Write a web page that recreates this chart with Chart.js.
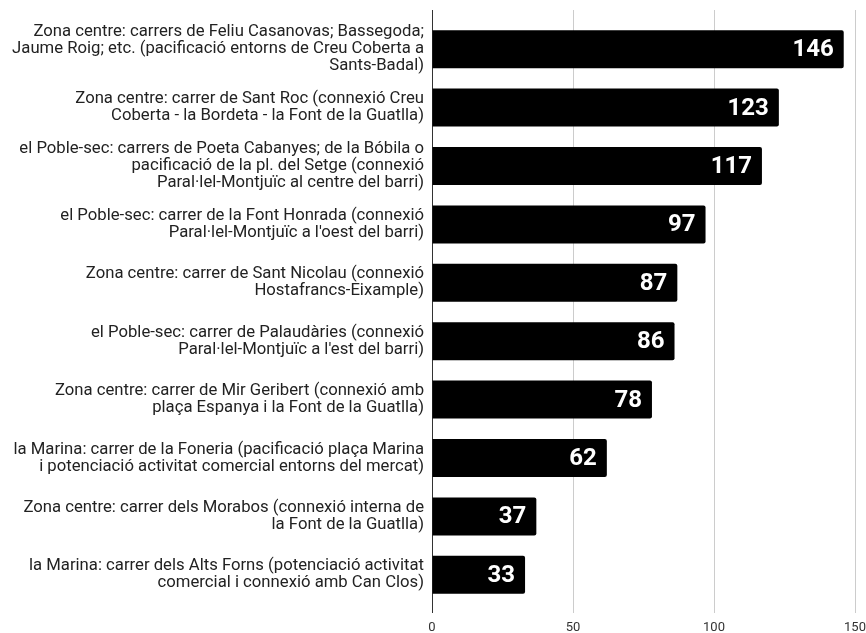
<!DOCTYPE html>
<html>
<head>
<meta charset="utf-8">
<script src="https://cdn.jsdelivr.net/npm/chart.js@4"></script>
<style>
    html, body { margin: 0; padding: 0; background: #fff; }
    #wrap { width: 866px; height: 633px; }
</style>
</head>
<body>
<div id="wrap"><canvas id="chart"></canvas></div>
<script>
// Dades del gràfic
const carrers = [
    ['Zona centre: carrers de Feliu Casanovas; Bassegoda;', 'Jaume Roig; etc. (pacificació entorns de Creu Coberta a', 'Sants-Badal)'],
    ['Zona centre: carrer de Sant Roc (connexió Creu', 'Coberta - la Bordeta - la Font de la Guatlla)'],
    ['el Poble-sec: carrers de Poeta Cabanyes; de la Bóbila o', 'pacificació de la pl. del Setge (connexió', 'Paral·lel-Montjuïc al centre del barri)'],
    ['el Poble-sec: carrer de la Font Honrada (connexió', 'Paral·lel-Montjuïc a l\'oest del barri)'],
    ['Zona centre: carrer de Sant Nicolau (connexió', 'Hostafrancs-Eixample)'],
    ['el Poble-sec: carrer de Palaudàries (connexió', 'Paral·lel-Montjuïc a l\'est del barri)'],
    ['Zona centre: carrer de Mir Geribert (connexió amb', 'plaça Espanya i la Font de la Guatlla)'],
    ['la Marina: carrer de la Foneria (pacificació plaça Marina', 'i potenciació activitat comercial entorns del mercat)'],
    ['Zona centre: carrer dels Morabos (connexió interna de', 'la Font de la Guatlla)'],
    ['la Marina: carrer dels Alts Forns (potenciació activitat', 'comercial i connexió amb Can Clos)']
];
const vots = [146, 123, 117, 97, 87, 86, 78, 62, 37, 33];
const ticksX = [0, 50, 100, 150];

// Etiquetes blanques dins de cada barra
const valueLabels = {
    id: 'valueLabels',
    afterDatasetsDraw(chart) {
        const ctx = chart.ctx;
        const meta = chart.getDatasetMeta(0);
        ctx.save();
        ctx.fillStyle = '#fff';
        ctx.font = 'bold 24px Roboto';
        ctx.textAlign = 'right';
        ctx.textBaseline = 'middle';
        meta.data.forEach((bar, i) => {
            ctx.fillText(String(vots[i]), bar.x - 10, bar.y + 1);
        });
        ctx.restore();
    }
};

const gridColor = c => (c.tick && c.tick.value === 0 ? '#333333' : '#cccccc');
const setTicks = scale => { scale.ticks = ticksX.map(v => ({ value: v })); };

new Chart(document.getElementById('chart'), {
    type: 'bar',
    data: {
        labels: carrers,
        datasets: [{
            data: vots,
            backgroundColor: '#000',
            borderRadius: 2,
            borderSkipped: 'start',
            categoryPercentage: 0.65,
            barPercentage: 1
        }]
    },
    options: {
        indexAxis: 'y',
        responsive: true,
        maintainAspectRatio: false,
        animation: false,
        layout: { padding: { top: 10, right: 11, left: 0, bottom: 0 } },
        plugins: {
            legend: { display: false },
            tooltip: { enabled: false }
        },
        scales: {
            x: {
                min: ticksX[0],
                max: ticksX[ticksX.length - 1],
                afterBuildTicks: setTicks,
                afterFit: scale => {
                    scale.height = 29;
                    scale.paddingLeft = 0;
                    scale.paddingRight = 0;
                },
                grid: { color: gridColor, drawTicks: true, tickLength: 9 },
                border: { display: false },
                ticks: {
                    padding: 7,
                    color: '#333',
                    font: { family: 'Roboto', size: 13 }
                }
            },
            // eix superior només per allargar les línies de la graella
            xTop: {
                axis: 'x',
                position: 'top',
                min: ticksX[0],
                max: ticksX[ticksX.length - 1],
                afterBuildTicks: setTicks,
                afterFit: scale => {
                    scale.height = 10;
                    scale.paddingLeft = 0;
                    scale.paddingRight = 0;
                },
                grid: { color: gridColor, drawOnChartArea: false, drawTicks: true, tickLength: 10 },
                border: { display: false },
                ticks: { display: false }
            },
            y: {
                afterFit: scale => {
                    scale.width = 432;
                    scale.paddingTop = 0;
                    scale.paddingBottom = 0;
                },
                grid: { display: false, drawTicks: false },
                border: { display: false },
                ticks: {
                    padding: 8,
                    color: '#222',
                    font: { family: 'Roboto', size: 16.7, lineHeight: 1.02 }
                }
            }
        }
    },
    plugins: [valueLabels]
});
</script>
</body>
</html>
